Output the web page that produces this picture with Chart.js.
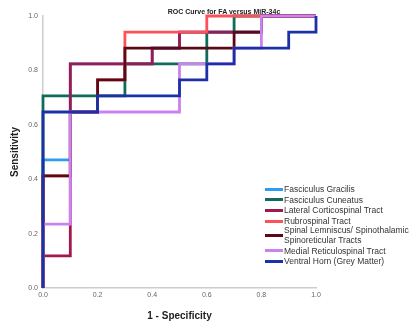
<!DOCTYPE html>
<html>
<head>
<meta charset="utf-8">
<script src="https://cdn.jsdelivr.net/npm/chart.js@4"></script>
<style>
  body { margin: 0; background: #fff; }
  .wrap { position: relative; width: 409px; height: 324px; overflow: hidden; font-family: 'Liberation Sans', Arial, sans-serif; }
  .title { position: absolute; left: 124px; width: 200px; top: 8px; text-align: center; font-size: 7px; font-weight: bold; color: #222; white-space: nowrap; }
  .legend { position: absolute; left: 265px; top: 184px; font-size: 8.5px; color: #333; }
  .legend .row { display: flex; align-items: center; line-height: 10.6px; white-space: nowrap; }
  .legend .row.two { line-height: 9.6px; }
  .legend .mark { width: 18px; height: 3px; margin-right: 1px; flex: none; }
</style>
</head>
<body>
<div class="wrap">
  <canvas id="roc"></canvas>
  <div class="title">ROC Curve for FA versus MiR-34c</div>
  <div class="legend"></div>
</div>
<script>
(function(){
    // series names and colours
    let names = [
        'Fasciculus Gracilis',
        'Fasciculus Cuneatus',
        'Lateral Corticospinal Tract',
        'Rubrospinal Tract',
        'Spinal Lemniscus/ Spinothalamic/\nSpinoreticular Tracts',
        'Medial Reticulospinal Tract',
        'Ventral Horn (Grey Matter)'
    ];
    let colors = ['#2f9cf0', '#106b5d', '#a0184f', '#ff4f58', '#5a0a16', '#cb82ef', '#1c31a6'];

    // 1 - specificity (x) and sensitivity (y) at every corner of the curves
    let gracilisX = [0, 0, 0.1, 0.1, 0.4, 0.4, 0.5, 0.5, 0.8, 0.8, 1];
    let gracilisY = [0, 0.471, 0.471, 0.824, 0.824, 0.882, 0.882, 0.941, 0.941, 1, 1];

    let cuneatusX = [0, 0, 0.3, 0.3, 0.6, 0.6, 0.7, 0.7, 1];
    let cuneatusY = [0, 0.706, 0.706, 0.824, 0.824, 0.941, 0.941, 1, 1];

    let corticoX = [0, 0, 0.1, 0.1, 0.4, 0.4, 0.5, 0.5, 0.8, 0.8, 1];
    let corticoY = [0, 0.118, 0.118, 0.824, 0.824, 0.882, 0.882, 0.941, 0.941, 1, 1];

    let rubroX = [0, 0, 0.1, 0.1, 0.2, 0.2, 0.3, 0.3, 0.6, 0.6, 1];
    let rubroY = [0, 0.412, 0.412, 0.647, 0.647, 0.765, 0.765, 0.941, 0.941, 1, 1];

    let lemniscusX = [0, 0, 0.1, 0.1, 0.2, 0.2, 0.3, 0.3, 0.7, 0.7, 0.8, 0.8, 1];
    let lemniscusY = [0, 0.412, 0.412, 0.647, 0.647, 0.765, 0.765, 0.882, 0.882, 0.941, 0.941, 1, 1];

    let reticuloX = [0, 0, 0.1, 0.1, 0.5, 0.5, 0.7, 0.7, 0.8, 0.8, 1];
    let reticuloY = [0, 0.235, 0.235, 0.647, 0.647, 0.824, 0.824, 0.882, 0.882, 1, 1];

    let ventralX = [0, 0, 0.2, 0.2, 0.5, 0.5, 0.6, 0.6, 0.7, 0.7, 0.9, 0.9, 1, 1];
    let ventralY = [0, 0.647, 0.647, 0.706, 0.706, 0.765, 0.765, 0.824, 0.824, 0.882, 0.882, 0.941, 0.941, 1];

    let xTicks = [0, 0.2, 0.4, 0.6, 0.8, 1.0];
    let yTicks = [0, 0.2, 0.4, 0.6, 0.8, 1.0];
    let tickLabels = ['0.0', '0.2', '0.4', '0.6', '0.8', '1.0'];

    let seriesX = [gracilisX, cuneatusX, corticoX, rubroX, lemniscusX, reticuloX, ventralX];
    let seriesY = [gracilisY, cuneatusY, corticoY, rubroY, lemniscusY, reticuloY, ventralY];

    let toPoints = (xs, ys) => xs.map((x, i) => ({x: x, y: ys[i]}));

    let datasets = names.map((name, i) => ({
        label: name,
        data: toPoints(seriesX[i], seriesY[i]),
        borderColor: colors[i],
        backgroundColor: colors[i],
        borderWidth: 2.8,
        pointRadius: 0,
        tension: 0,
        fill: false,
        clip: false,
        borderJoinStyle: 'miter',
        order: names.length - i   // later series drawn on top
    }));

    Chart.defaults.font.family = "'Liberation Sans', Arial, sans-serif";

    let tickFont = {size: 7};
    let axisTitleFont = {size: 10, weight: 'bold'};

    new Chart(document.getElementById('roc'), {
        type: 'line',
        data: {datasets: datasets},
        options: {
            responsive: true,
            maintainAspectRatio: false,
            animation: false,
            layout: {padding: {top: 16, right: 93, bottom: 0, left: 0}},
            plugins: {
                legend: {display: false},
                tooltip: {enabled: false}
            },
            scales: {
                x: {
                    type: 'linear', min: 0, max: 1,
                    afterBuildTicks: (s) => { s.ticks = xTicks.map(v => ({value: v})); },
                    afterFit: (s) => { s.height = 36; },
                    ticks: {
                        callback: (v) => tickLabels[xTicks.indexOf(v)],
                        font: tickFont, color: '#666', padding: 3, maxRotation: 0
                    },
                    grid: {display: false, drawTicks: false},
                    border: {color: '#cccccc', width: 1.5},
                    title: {display: true, text: '1 - Specificity', font: axisTitleFont,
                        color: '#222', padding: {top: 0, bottom: 1.3}}
                },
                y: {
                    type: 'linear', min: 0, max: 1,
                    afterBuildTicks: (s) => { s.ticks = yTicks.map(v => ({value: v})); },
                    afterFit: (s) => { s.width = 43; },
                    ticks: {
                        callback: (v) => tickLabels[yTicks.indexOf(v)],
                        font: tickFont, color: '#666', padding: 5
                    },
                    grid: {display: false, drawTicks: false},
                    border: {color: '#cccccc', width: 1.5},
                    title: {display: true, text: 'Sensitivity', font: axisTitleFont,
                        color: '#222', padding: {top: 9, bottom: 0}}
                }
            }
        }
    });

    // legend inside the plot, bottom right
    let legend = document.querySelector('.legend');
    names.forEach((name, i) => {
        let row = document.createElement('div');
        row.className = 'row';
        let lines = name.split('\n');
        if (lines.length > 1) row.classList.add('two');
        let mark = document.createElement('span');
        mark.className = 'mark';
        mark.style.backgroundColor = colors[i];
        let text = document.createElement('span');
        text.innerHTML = lines.join('<br>');
        row.appendChild(mark);
        row.appendChild(text);
        legend.appendChild(row);
    });
})();
</script>
</body>
</html>
